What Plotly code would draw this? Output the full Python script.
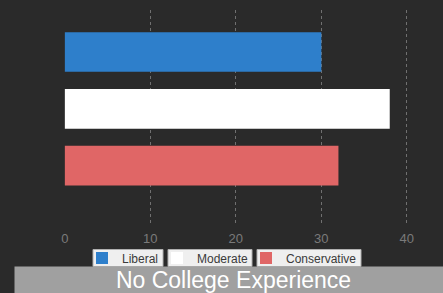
import plotly.graph_objects as go

categories = ["Liberal", "Moderate", "Conservative"]
values = [30, 38, 32]
colors = ["#2e7fcb", "#ffffff", "#e06666"]
x_ticks = [0, 10, 20, 30, 40]
title_text = "No College Experience"

FONT = "Liberation Sans, Arial, sans-serif"
L, R, T, B = 64, 10, 10, 69
W, H = 443, 293
pw, ph = W - L - R, H - T - B

def px2x(px):
    return (px - L) / pw

def px2y(py):
    return (H - B - py) / ph

fig = go.Figure()
legend_names = ["legend", "legend2", "legend3"]
for cat, val, col, lg in zip(categories, values, colors, legend_names):
    fig.add_trace(go.Bar(
        y=[cat], x=[val], orientation="h", name=cat,
        marker=dict(color=col, line=dict(width=0)),
        width=0.7, legend=lg, hoverinfo="x+name",
    ))

# legend boxes (pixel positions)
boxes = [(93, 163), (168, 252), (257, 361)]
box_top, box_bot = 249.5, 266.5
shapes = []
for x0, x1 in boxes:
    shapes.append(dict(type="rect", xref="paper", yref="paper",
                       x0=px2x(x0), x1=px2x(x1), y0=px2y(box_bot), y1=px2y(box_top),
                       fillcolor="#efefef", line=dict(color="#b0b0b0", width=1),
                       layer="above"))

legend_common = dict(bgcolor="rgba(0,0,0,0)", borderwidth=0,
                     font=dict(family=FONT, size=12, color="#3a3a3a"),
                     orientation="h", xanchor="left", yanchor="middle",
                     itemclick=False, itemdoubleclick=False)
lay_leg = {}
for lg, (x0, x1) in zip(legend_names, boxes):
    lay_leg[lg] = dict(legend_common, x=px2x(x0 - 11), y=px2y((box_top + box_bot) / 2))

fig.update_layout(
    width=W, height=H,
    margin=dict(l=L, r=R, t=T, b=B, pad=0, autoexpand=False),
    paper_bgcolor="#2a2a2a", plot_bgcolor="#2a2a2a",
    barmode="overlay",
    showlegend=True,
    font=dict(family=FONT),
    xaxis=dict(range=[-0.1, 43.06], tickvals=x_ticks, ticktext=[str(v) for v in x_ticks],
               showgrid=True, gridcolor="#707070", gridwidth=1, griddash="3px,3px",
               zeroline=False, showline=False, ticks="", ticklabelstandoff=5,
               tickfont=dict(family=FONT, size=13, color="#7a7a7a")),
    yaxis=dict(categoryorder="array", categoryarray=categories,
               range=[3.03, -0.74], showticklabels=False, showgrid=False,
               zeroline=False, showline=False, ticks=""),
    shapes=shapes,
    annotations=[dict(text=title_text, xref="paper", yref="paper",
                      x=px2x(14), xanchor="left", y=px2y(280), yanchor="middle",
                      width=437, height=26, bgcolor="#a0a0a0", borderpad=0,
                      showarrow=False, align="center", valign="middle",
                      font=dict(family=FONT, size=23, color="#ffffff"))],
    **lay_leg,
)

fig.write_html("out.html", config={"displayModeBar": False},
               post_script="document.body.style.margin='0';document.body.style.background='#2a2a2a';")
